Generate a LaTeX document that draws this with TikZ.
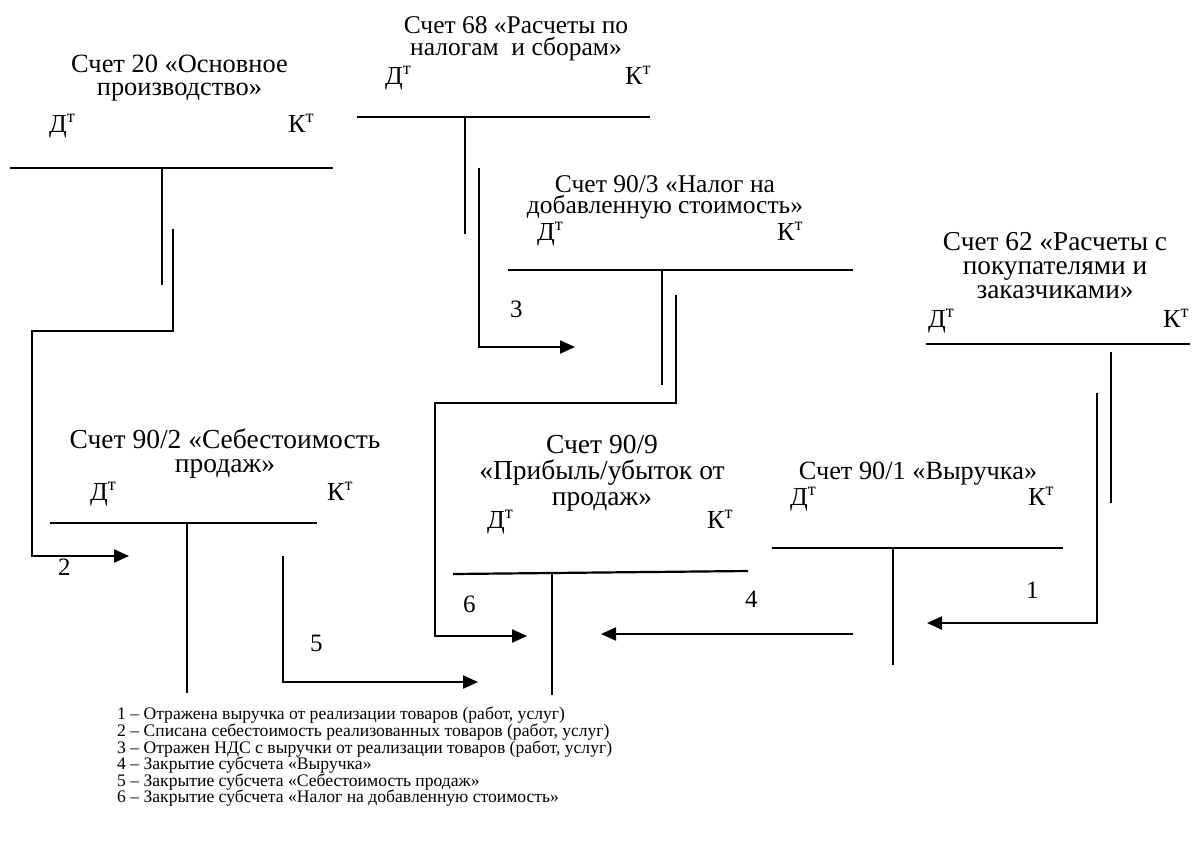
\documentclass[tikz,border=0pt]{standalone}
\usepackage{fontspec}
\setmainfont{Liberation Serif}
\usetikzlibrary{arrows.meta}
\newcommand{\dt}{Д\textsuperscript{т}}
\newcommand{\kt}{К\textsuperscript{т}}
\begin{document}
\begin{tikzpicture}[x=1pt,y=-1pt,
  % account titles are placed by the baseline of their last line
  acct/.style 2 args={align=center, anchor=base, inner sep=0pt,
    font=\fontsize{#1}{#2}\selectfont},
  side/.style={anchor=base west, inner sep=0pt, font=\fontsize{26}{26}\selectfont},
  tline/.style={line width=2.2pt},
  flow/.style={line width=2.2pt, -{Triangle[length=15pt,width=13pt]}},
  num/.style={anchor=base west, inner sep=0pt, font=\fontsize{25}{25}\selectfont},
  legend/.style={align=left, font=\fontsize{17.6}{16.6}\selectfont, inner sep=0pt, anchor=north west}]
\fill[white] (0,0) rectangle (1193,852);
\useasboundingbox (0,0) rectangle (1193,852);

% --- Account 20
\node[acct={26.4}{23}] (t20) at (179.5,95) {Счет 20 «Основное\\производство»};
\node[side] (d20) at (49,132) {\dt};
\node[side] (k20) at (288,132) {\kt};
\coordinate (l20) at (10,168); \coordinate (r20) at (333,168);
\coordinate (s20a) at (162,168); \coordinate (s20b) at (162,285);
\draw[tline] (l20) -- (r20);
\draw[tline] (s20a) -- (s20b);

% --- Account 68
\node[acct={25.5}{22}] (t68) at (516,55) {Счет 68 «Расчеты по\\налогам\ \ и сборам»};
\node[side] (d68) at (385,84) {\dt};
\node[side] (k68) at (625,84) {\kt};
\coordinate (l68) at (357,117); \coordinate (r68) at (650,117);
\coordinate (s68a) at (465,117); \coordinate (s68b) at (465,234);
\draw[tline] (l68) -- (r68);
\draw[tline] (s68a) -- (s68b);

% --- Account 90/3
\node[acct={25.5}{21}] (t903) at (665,213) {Счет 90/3 «Налог на\\добавленную стоимость»};
\node[side] (d903) at (537,240) {\dt};
\node[side] (k903) at (777,240) {\kt};
\coordinate (l903) at (508,270); \coordinate (r903) at (853,270);
\coordinate (s903a) at (662,270); \coordinate (s903b) at (662,385);
\draw[tline] (l903) -- (r903);
\draw[tline] (s903a) -- (s903b);

% --- Account 62
\node[acct={27.3}{24}] (t62) at (1055,298) {Счет 62 «Расчеты с\\покупателями и\\заказчиками»};
\node[side] (d62) at (928,327) {\dt};
\node[side] (k62) at (1163,327) {\kt};
\coordinate (l62) at (926,344); \coordinate (r62) at (1190,344);
\coordinate (s62a) at (1111,352); \coordinate (s62b) at (1111,503);
\draw[tline] (l62) -- (r62);
\draw[tline] (s62a) -- (s62b);

% --- Account 90/2
\node[acct={27.5}{24}] (t902) at (225,472) {Счет 90/2 «Себестоимость\\продаж»};
\node[side] (d902) at (90,500) {\dt};
\node[side] (k902) at (327,500) {\kt};
\coordinate (l902) at (50,523); \coordinate (r902) at (317,523);
\coordinate (s902a) at (187,523); \coordinate (s902b) at (187,693);
\draw[tline] (l902) -- (r902);
\draw[tline] (s902a) -- (s902b);

% --- Account 90/9
\node[acct={27.5}{26}] (t909) at (602,505) {Счет 90/9\\«Прибыль/убыток от\\продаж»};
\node[side] (d909) at (487,528) {\dt};
\node[side] (k909) at (707,528) {\kt};
\coordinate (l909) at (453,574); \coordinate (r909) at (748,571);
\coordinate (s909a) at (552,573); \coordinate (s909b) at (552,695);
\draw[tline] (l909) -- (r909);
\draw[tline] (s909a) -- (s909b);

% --- Account 90/1
\node[acct={26.3}{24}] (t901) at (918,479) {Счет 90/1 «Выручка»};
\node[side] (d901) at (790,505) {\dt};
\node[side] (k901) at (1028,505) {\kt};
\coordinate (l901) at (772,548); \coordinate (r901) at (1063,548);
\coordinate (s901a) at (893,548); \coordinate (s901b) at (893,665);
\draw[tline] (l901) -- (r901);
\draw[tline] (s901a) -- (s901b);

% --- Entries
% 1: 62 -> 90/1
\coordinate (f1a) at (1097,393); \coordinate (f1b) at (1097,623); \coordinate (f1c) at (927,623);
\draw[flow] (f1a) -- (f1b) -- (f1c);
\node[num] (n1) at (1026,598) {1};
% 2: 20 -> 90/2
\coordinate (f2a) at (173,229); \coordinate (f2b) at (173,331); \coordinate (f2c) at (32,331);
\coordinate (f2d) at (32,556); \coordinate (f2e) at (129,556);
\draw[flow] (f2a) -- (f2b) -- (f2c) -- (f2d) -- (f2e);
\node[num] (n2) at (58,575) {2};
% 3: 68 -> 90/3
\coordinate (f3a) at (479,168); \coordinate (f3b) at (479,347); \coordinate (f3c) at (575,347);
\draw[flow] (f3a) -- (f3b) -- (f3c);
\node[num] (n3) at (510,317) {3};
% 4: 90/1 -> 90/9
\coordinate (f4a) at (853,634); \coordinate (f4b) at (601,634);
\draw[flow] (f4a) -- (f4b);
\node[num] (n4) at (745,607) {4};
% 5: 90/2 -> 90/9
\coordinate (f5a) at (283,556); \coordinate (f5b) at (283,682); \coordinate (f5c) at (478,682);
\draw[flow] (f5a) -- (f5b) -- (f5c);
\node[num] (n5) at (310,651) {5};
% 6: 90/3 -> 90/9
\coordinate (f6a) at (676,295); \coordinate (f6b) at (676,403); \coordinate (f6c) at (435,403);
\coordinate (f6d) at (435,636); \coordinate (f6e) at (527,636);
\draw[flow] (f6a) -- (f6b) -- (f6c) -- (f6d) -- (f6e);
\node[num] (n6) at (463,612) {6};

% --- Legend
\node[legend] (key) at (117,707) {1 – Отражена выручка от реализации товаров (работ, услуг)\\
2 – Списана себестоимость реализованных товаров (работ, услуг)\\
3 – Отражен НДС с выручки от реализации товаров (работ, услуг)\\
4 – Закрытие субсчета «Выручка»\\
5 – Закрытие субсчета «Себестоимость продаж»\\
6 – Закрытие субсчета «Налог на добавленную стоимость»};
\end{tikzpicture}
\end{document}
